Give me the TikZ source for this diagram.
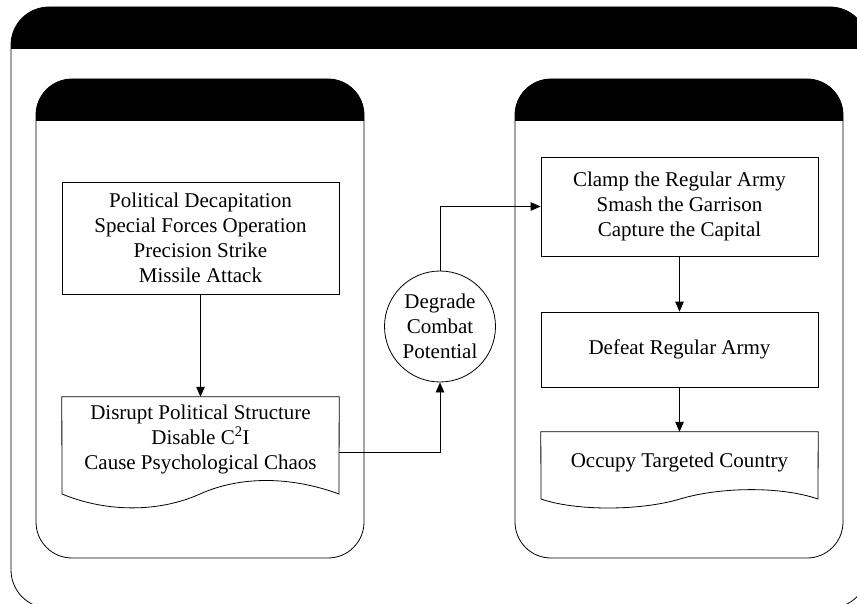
\documentclass[tikz,border=0pt]{standalone}
\usepackage{fontspec}
\setmainfont{Liberation Serif}
\usetikzlibrary{arrows.meta}

\tikzset{
  line/.style={line width=0.8pt, black},
  arr/.style={line, -{Triangle[length=10pt,width=8.5pt]}},
  label/.style={font=\fontsize{21}{25}\selectfont, align=center, inner sep=0pt},
  box/.style={label, line, draw, minimum width=277pt},
  doctext/.style={label, minimum width=277pt},
  bubble/.style={label, line, draw, circle, minimum size=111pt},
}

\begin{document}
\begin{tikzpicture}[x=1pt, y=-1pt]
\useasboundingbox (0,0) rectangle (857,604);

% outer frame with black title band
\draw[line] [rounded corners=38pt] (11,7) rectangle (868,608);
\begin{scope}
  \clip (0,0) rectangle (880,49);
  \fill[black, rounded corners=38pt] (11,7) rectangle (868,608);
\end{scope}

% two lanes with black header bands
\foreach \lx/\rx in {36/364, 515/843}{
  \draw[line] [rounded corners=36pt] (\lx,79) rectangle (\rx,558);
  \begin{scope}
    \clip (\lx-2,70) rectangle (\rx+2,121);
    \fill[black, rounded corners=36pt] (\lx,79) rectangle (\rx,558);
  \end{scope}
}

% left lane
\node[box, minimum height=112pt] (ptop) at (200.5,238)
  {Political Decapitation\\Special Forces Operation\\Precision Strike\\Missile Attack};
\node[doctext, minimum height=84pt] (pdoc) at (200.5,439)
  {Disrupt Political Structure\\Disable C\textsuperscript{2}I\\Cause Psychological Chaos};
\draw[line] (pdoc.north west) -- (pdoc.north east) -- (339,494)
  .. controls (290,476) and (240,476) .. (200,494)
  .. controls (160,512) and (108,513) .. (62,494) -- cycle;

% middle step
\node[bubble] (deg) at (440,326.5) {Degrade\\Combat\\Potential};

% right lane
\node[box, minimum height=99pt] (ctop) at (679.5,206.5)
  {Clamp the Regular Army\\Smash the Garrison\\Capture the Capital};
\node[box, minimum height=75pt] (defeat) at (679.5,349.5) {Defeat Regular Army};
\node[doctext, minimum height=60pt] (occ) at (679.5,462) {Occupy Targeted Country};
\draw[line] (occ.north west) -- (occ.north east) -- (818,499)
  .. controls (780,486) and (720,487) .. (680,499)
  .. controls (640,511) and (575,511) .. (541,499) -- cycle;

% connectors
\draw[arr] (ptop.south) -- (pdoc.north);
\draw[arr] ([yshift=-13pt]pdoc.east) -| (deg.south);
\draw[arr] (deg.north) |- (ctop.west);
\draw[arr] (ctop.south) -- (defeat.north);
\draw[arr] (defeat.south) -- (occ.north);
\end{tikzpicture}
\end{document}
